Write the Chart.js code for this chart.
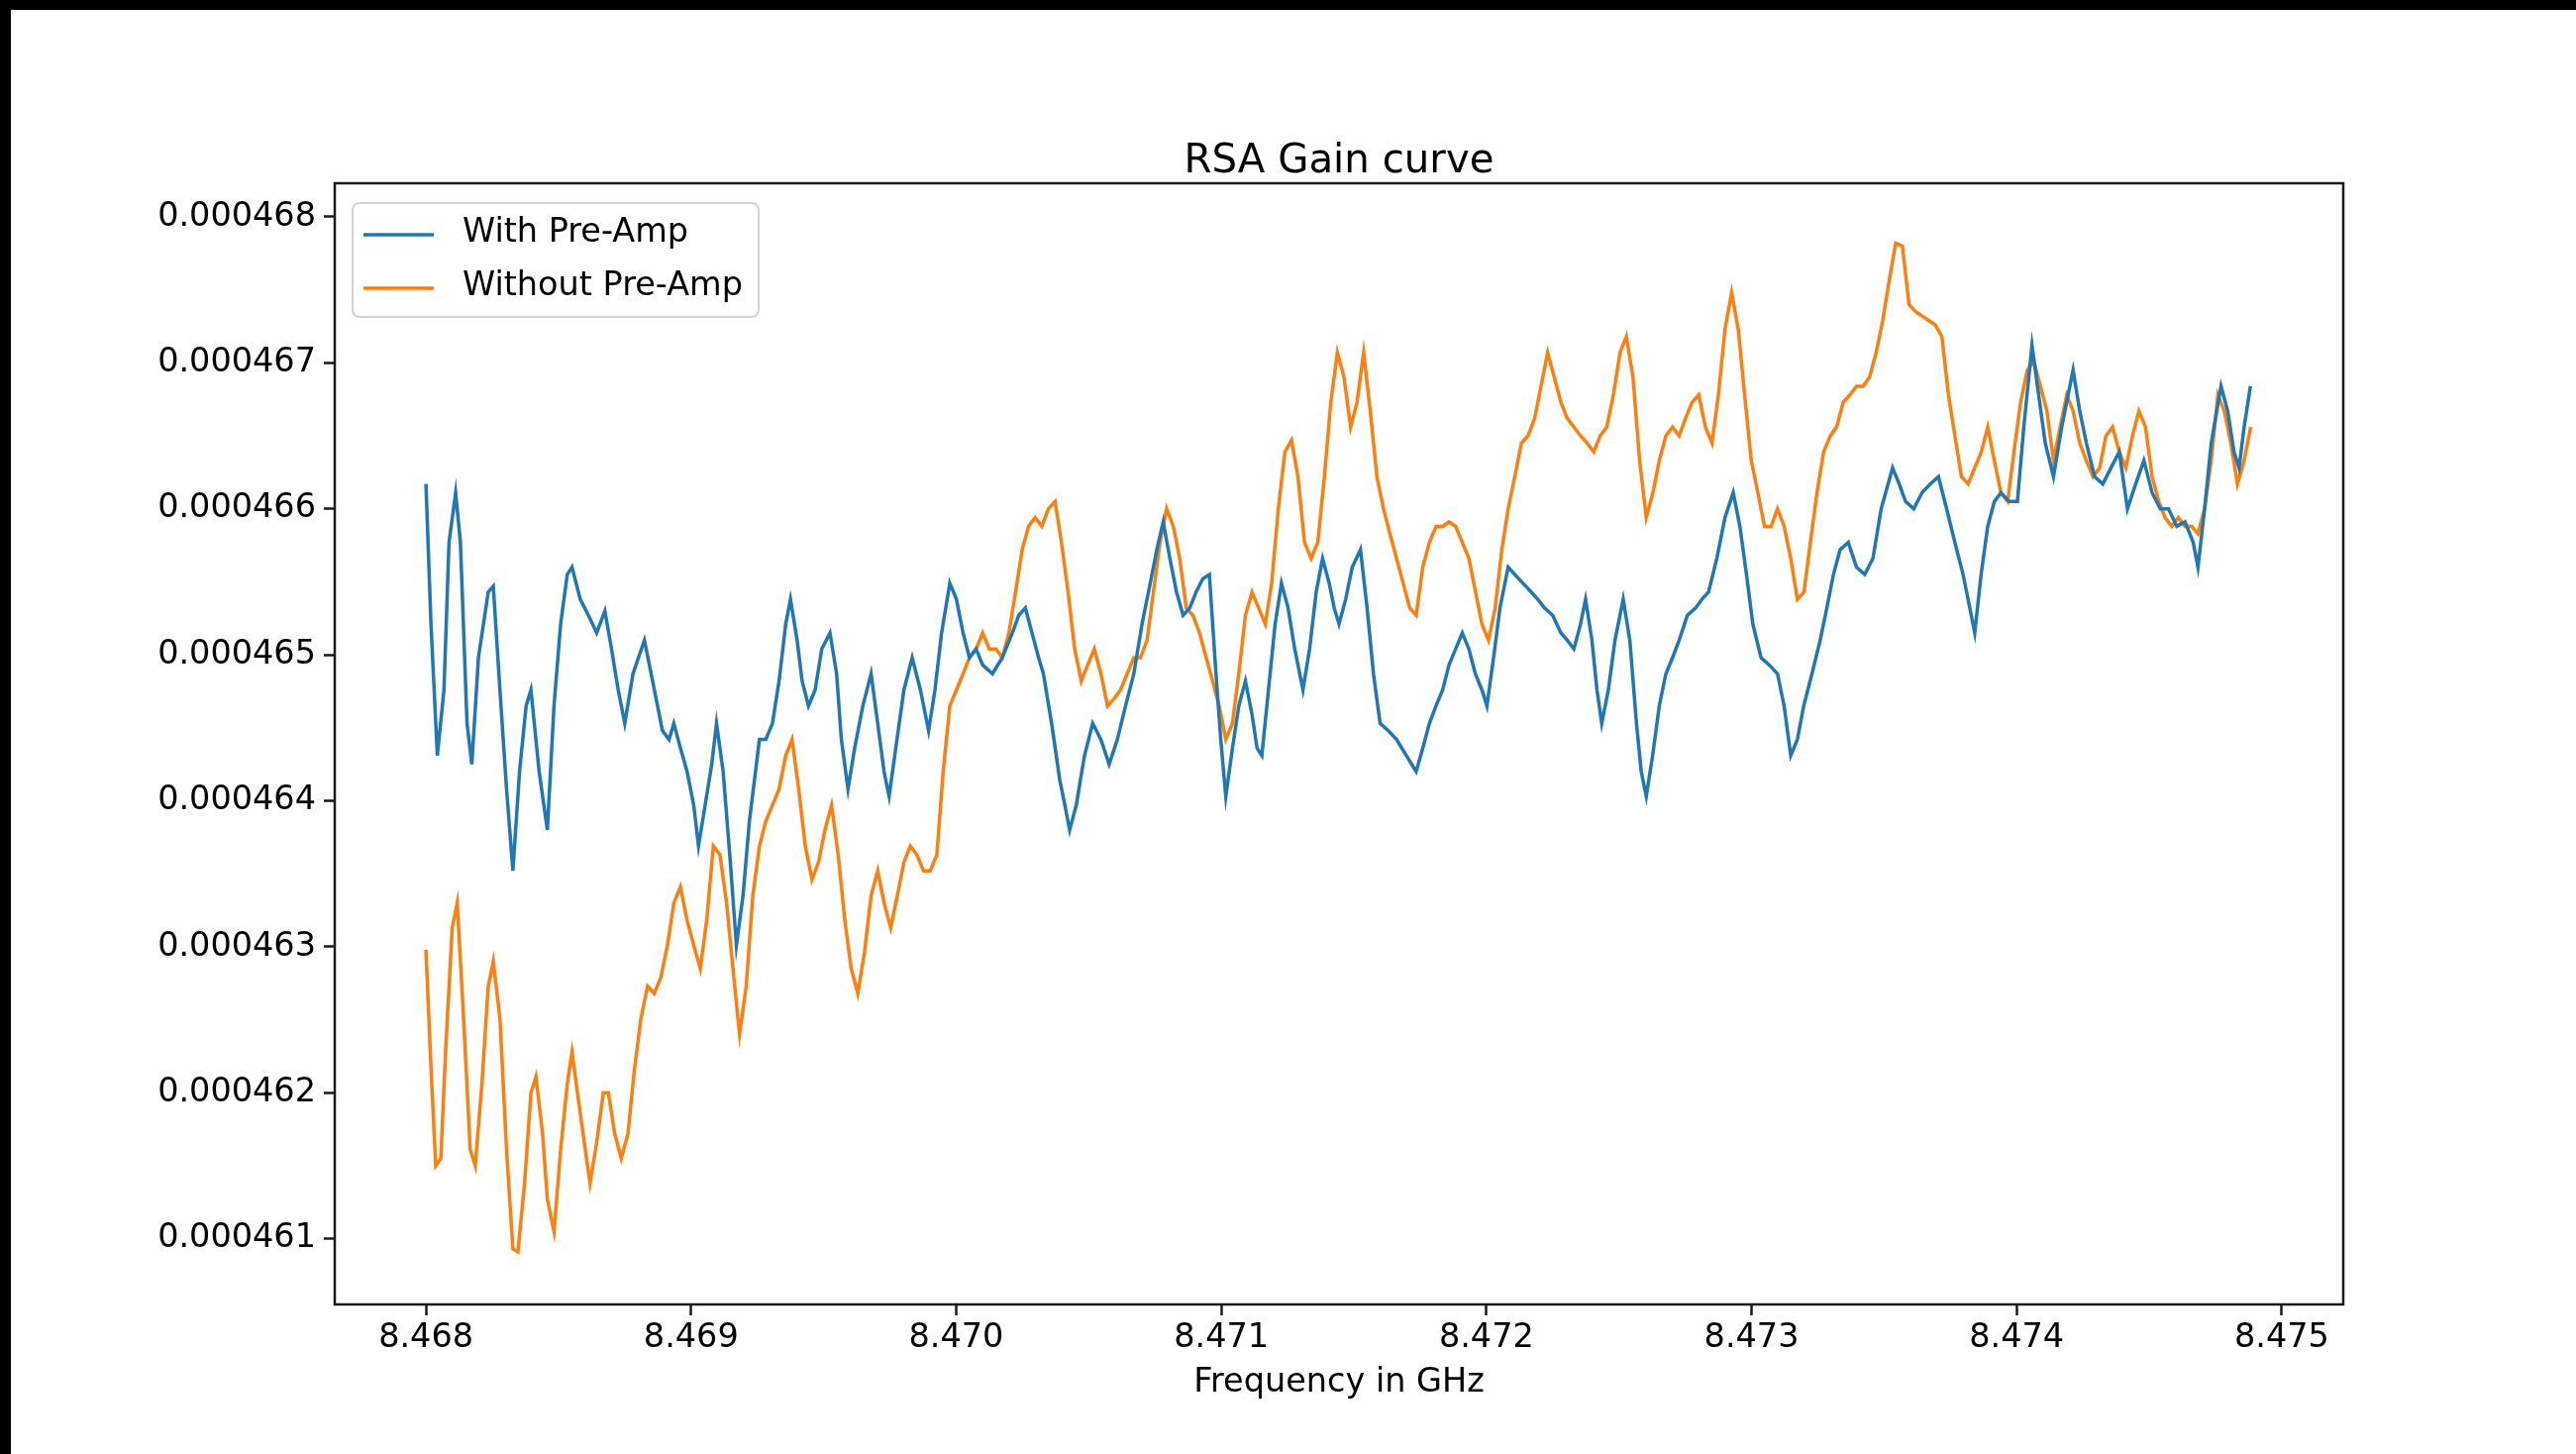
<!DOCTYPE html>
<html>
<head>
<meta charset="utf-8">
<title>RSA Gain curve</title>
<script src="https://cdn.jsdelivr.net/npm/chart.js@4.4.1/dist/chart.umd.min.js"></script>
<style>
  html, body { margin: 0; padding: 0; background: #000; width: 2601px; height: 1468px; overflow: hidden; }
  #frame { position: absolute; left: 11px; top: 10px; width: 2590px; height: 1458px; background: #fff; }
  canvas { display: block; }
</style>
</head>
<body>
<div id="frame"><canvas id="gain" width="2590" height="1458"></canvas></div>
<script>
// Frequency axis ticks (GHz) and value axis ticks
const xTicks = [8.468, 8.469, 8.470, 8.471, 8.472, 8.473, 8.474, 8.475];
const yTicks = [0.000461, 0.000462, 0.000463, 0.000464, 0.000465, 0.000466, 0.000467, 0.000468];

// Series labels
const seriesLabels = ['With Pre-Amp', 'Without Pre-Amp'];

// With Pre-Amp: sample frequencies (GHz) and measured gain
const freqWith = [8.468000, 8.468019, 8.468043, 8.468068, 8.468087, 8.468112, 8.468130, 8.468155, 8.468173, 8.468198,
  8.468235, 8.468254, 8.468279, 8.468304, 8.468328, 8.468353, 8.468378, 8.468396, 8.468427, 8.468458,
  8.468483, 8.468508, 8.468533, 8.468551, 8.468582, 8.468613, 8.468644, 8.468675, 8.468700, 8.468725,
  8.468750, 8.468781, 8.468824, 8.468855, 8.468892, 8.468917, 8.468935, 8.468960, 8.468985, 8.469010,
  8.469028, 8.469053, 8.469078, 8.469096, 8.469121, 8.469146, 8.469171, 8.469196, 8.469220, 8.469258,
  8.469282, 8.469307, 8.469332, 8.469357, 8.469375, 8.469400, 8.469419, 8.469443, 8.469468, 8.469493,
  8.469524, 8.469549, 8.469567, 8.469592, 8.469617, 8.469648, 8.469679, 8.469704, 8.469728, 8.469747,
  8.469772, 8.469803, 8.469834, 8.469865, 8.469896, 8.469920, 8.469945, 8.469976, 8.470001, 8.470026,
  8.470050, 8.470075, 8.470100, 8.470137, 8.470174, 8.470212, 8.470236, 8.470261, 8.470286, 8.470311,
  8.470329, 8.470360, 8.470391, 8.470410, 8.470428, 8.470453, 8.470484, 8.470515, 8.470546, 8.470577,
  8.470608, 8.470639, 8.470670, 8.470701, 8.470732, 8.470757, 8.470781, 8.470806, 8.470831, 8.470856,
  8.470881, 8.470905, 8.470930, 8.470955, 8.470980, 8.470998, 8.471017, 8.471042, 8.471066, 8.471091,
  8.471116, 8.471135, 8.471153, 8.471178, 8.471203, 8.471227, 8.471252, 8.471277, 8.471308, 8.471333,
  8.471358, 8.471382, 8.471407, 8.471426, 8.471444, 8.471469, 8.471494, 8.471525, 8.471550, 8.471574,
  8.471599, 8.471630, 8.471661, 8.471698, 8.471735, 8.471760, 8.471785, 8.471810, 8.471835, 8.471859,
  8.471884, 8.471909, 8.471934, 8.471958, 8.471983, 8.472002, 8.472027, 8.472051, 8.472082, 8.472107,
  8.472138, 8.472169, 8.472194, 8.472219, 8.472250, 8.472281, 8.472305, 8.472330, 8.472355, 8.472374,
  8.472398, 8.472417, 8.472435, 8.472460, 8.472485, 8.472516, 8.472541, 8.472566, 8.472584, 8.472603,
  8.472627, 8.472652, 8.472677, 8.472702, 8.472727, 8.472758, 8.472789, 8.472813, 8.472838, 8.472869,
  8.472900, 8.472931, 8.472956, 8.472981, 8.473005, 8.473036, 8.473067, 8.473098, 8.473123, 8.473148,
  8.473173, 8.473197, 8.473228, 8.473259, 8.473284, 8.473309, 8.473334, 8.473365, 8.473396, 8.473427,
  8.473458, 8.473489, 8.473532, 8.473557, 8.473581, 8.473612, 8.473643, 8.473674, 8.473705, 8.473736,
  8.473767, 8.473798, 8.473829, 8.473842, 8.473866, 8.473891, 8.473916, 8.473941, 8.473972, 8.474003,
  8.474027, 8.474058, 8.474083, 8.474108, 8.474139, 8.474170, 8.474213, 8.474238, 8.474263, 8.474294,
  8.474325, 8.474356, 8.474387, 8.474418, 8.474449, 8.474480, 8.474511, 8.474542, 8.474573, 8.474604,
  8.474635, 8.474666, 8.474684, 8.474709, 8.474734, 8.474771, 8.474796, 8.474820, 8.474839, 8.474858,
  8.474882];
const gainWith = [0.00046617, 0.00046521, 0.00046431, 0.00046476, 0.00046577, 0.00046611, 0.00046577, 0.00046453, 0.00046425, 0.00046498,
  0.00046543, 0.00046547, 0.00046476, 0.00046408, 0.00046352, 0.00046420, 0.00046465, 0.00046476, 0.00046420, 0.00046380,
  0.00046465, 0.00046521, 0.00046555, 0.00046560, 0.00046538, 0.00046527, 0.00046515, 0.00046530, 0.00046504, 0.00046476,
  0.00046453, 0.00046487, 0.00046510, 0.00046482, 0.00046448, 0.00046442, 0.00046453, 0.00046436, 0.00046420, 0.00046397,
  0.00046369, 0.00046397, 0.00046425, 0.00046453, 0.00046420, 0.00046363, 0.00046301, 0.00046335, 0.00046386, 0.00046442,
  0.00046442, 0.00046453, 0.00046482, 0.00046521, 0.00046538, 0.00046510, 0.00046482, 0.00046465, 0.00046476, 0.00046504,
  0.00046515, 0.00046487, 0.00046442, 0.00046408, 0.00046436, 0.00046465, 0.00046487, 0.00046453, 0.00046420, 0.00046403,
  0.00046436, 0.00046476, 0.00046498, 0.00046476, 0.00046448, 0.00046476, 0.00046515, 0.00046549, 0.00046538, 0.00046515,
  0.00046498, 0.00046504, 0.00046493, 0.00046487, 0.00046498, 0.00046515, 0.00046527, 0.00046532, 0.00046515, 0.00046498,
  0.00046487, 0.00046453, 0.00046414, 0.00046397, 0.00046380, 0.00046397, 0.00046431, 0.00046453, 0.00046442, 0.00046425,
  0.00046442, 0.00046465, 0.00046487, 0.00046521, 0.00046549, 0.00046572, 0.00046591, 0.00046566, 0.00046543, 0.00046527,
  0.00046532, 0.00046543, 0.00046552, 0.00046555, 0.00046487, 0.00046442, 0.00046403, 0.00046436, 0.00046465, 0.00046482,
  0.00046459, 0.00046436, 0.00046431, 0.00046476, 0.00046521, 0.00046549, 0.00046532, 0.00046504, 0.00046476, 0.00046504,
  0.00046543, 0.00046566, 0.00046549, 0.00046532, 0.00046521, 0.00046538, 0.00046560, 0.00046572, 0.00046532, 0.00046487,
  0.00046453, 0.00046448, 0.00046442, 0.00046431, 0.00046420, 0.00046436, 0.00046453, 0.00046465, 0.00046476, 0.00046493,
  0.00046504, 0.00046515, 0.00046504, 0.00046487, 0.00046476, 0.00046465, 0.00046498, 0.00046532, 0.00046560, 0.00046555,
  0.00046549, 0.00046543, 0.00046538, 0.00046532, 0.00046527, 0.00046515, 0.00046510, 0.00046504, 0.00046521, 0.00046538,
  0.00046510, 0.00046476, 0.00046453, 0.00046476, 0.00046510, 0.00046538, 0.00046510, 0.00046453, 0.00046420, 0.00046403,
  0.00046431, 0.00046465, 0.00046487, 0.00046498, 0.00046510, 0.00046527, 0.00046532, 0.00046538, 0.00046543, 0.00046566,
  0.00046594, 0.00046611, 0.00046588, 0.00046555, 0.00046521, 0.00046498, 0.00046493, 0.00046487, 0.00046465, 0.00046431,
  0.00046442, 0.00046465, 0.00046487, 0.00046510, 0.00046532, 0.00046555, 0.00046572, 0.00046577, 0.00046560, 0.00046555,
  0.00046566, 0.00046600, 0.00046628, 0.00046617, 0.00046605, 0.00046600, 0.00046611, 0.00046617, 0.00046622, 0.00046600,
  0.00046577, 0.00046555, 0.00046527, 0.00046515, 0.00046555, 0.00046588, 0.00046605, 0.00046611, 0.00046605, 0.00046605,
  0.00046656, 0.00046712, 0.00046678, 0.00046645, 0.00046622, 0.00046656, 0.00046695, 0.00046667, 0.00046645, 0.00046622,
  0.00046617, 0.00046628, 0.00046639, 0.00046600, 0.00046617, 0.00046633, 0.00046611, 0.00046600, 0.00046600, 0.00046588,
  0.00046591, 0.00046577, 0.00046560, 0.00046600, 0.00046645, 0.00046684, 0.00046667, 0.00046639, 0.00046628, 0.00046656,
  0.00046684];

// Without Pre-Amp: sample frequencies (GHz) and measured gain
const freqWithout = [8.468000, 8.468019, 8.468037, 8.468056, 8.468074, 8.468099, 8.468118, 8.468142, 8.468167, 8.468186,
  8.468211, 8.468235, 8.468254, 8.468279, 8.468304, 8.468328, 8.468347, 8.468372, 8.468396, 8.468415,
  8.468440, 8.468458, 8.468483, 8.468508, 8.468533, 8.468551, 8.468576, 8.468601, 8.468619, 8.468644,
  8.468669, 8.468688, 8.468712, 8.468737, 8.468762, 8.468787, 8.468811, 8.468836, 8.468861, 8.468886,
  8.468911, 8.468935, 8.468960, 8.468985, 8.469010, 8.469035, 8.469059, 8.469084, 8.469109, 8.469134,
  8.469158, 8.469183, 8.469208, 8.469233, 8.469258, 8.469282, 8.469307, 8.469332, 8.469357, 8.469381,
  8.469406, 8.469431, 8.469456, 8.469481, 8.469505, 8.469530, 8.469555, 8.469580, 8.469604, 8.469629,
  8.469654, 8.469679, 8.469704, 8.469728, 8.469753, 8.469778, 8.469803, 8.469827, 8.469852, 8.469877,
  8.469902, 8.469927, 8.469951, 8.469976, 8.470001, 8.470026, 8.470050, 8.470075, 8.470100, 8.470125,
  8.470150, 8.470174, 8.470199, 8.470224, 8.470249, 8.470273, 8.470298, 8.470323, 8.470348, 8.470373,
  8.470397, 8.470422, 8.470447, 8.470472, 8.470496, 8.470521, 8.470546, 8.470571, 8.470596, 8.470620,
  8.470645, 8.470670, 8.470695, 8.470720, 8.470744, 8.470769, 8.470794, 8.470819, 8.470843, 8.470868,
  8.470893, 8.470918, 8.470943, 8.470967, 8.470992, 8.471017, 8.471042, 8.471066, 8.471091, 8.471116,
  8.471141, 8.471166, 8.471190, 8.471215, 8.471240, 8.471265, 8.471289, 8.471314, 8.471339, 8.471364,
  8.471389, 8.471413, 8.471438, 8.471463, 8.471488, 8.471512, 8.471537, 8.471562, 8.471587, 8.471612,
  8.471636, 8.471661, 8.471686, 8.471711, 8.471735, 8.471760, 8.471785, 8.471810, 8.471835, 8.471859,
  8.471884, 8.471909, 8.471934, 8.471959, 8.471983, 8.472008, 8.472033, 8.472058, 8.472082, 8.472107,
  8.472132, 8.472157, 8.472182, 8.472206, 8.472231, 8.472256, 8.472281, 8.472305, 8.472330, 8.472355,
  8.472380, 8.472405, 8.472429, 8.472454, 8.472479, 8.472504, 8.472528, 8.472553, 8.472578, 8.472603,
  8.472628, 8.472652, 8.472677, 8.472702, 8.472727, 8.472751, 8.472776, 8.472801, 8.472826, 8.472851,
  8.472875, 8.472900, 8.472925, 8.472950, 8.472974, 8.472999, 8.473024, 8.473049, 8.473074, 8.473098,
  8.473123, 8.473148, 8.473173, 8.473198, 8.473222, 8.473247, 8.473272, 8.473297, 8.473321, 8.473346,
  8.473371, 8.473396, 8.473421, 8.473445, 8.473470, 8.473495, 8.473520, 8.473544, 8.473569, 8.473594,
  8.473619, 8.473644, 8.473668, 8.473693, 8.473718, 8.473743, 8.473767, 8.473792, 8.473817, 8.473842,
  8.473867, 8.473891, 8.473916, 8.473941, 8.473966, 8.473990, 8.474015, 8.474040, 8.474065, 8.474090,
  8.474114, 8.474139, 8.474164, 8.474189, 8.474213, 8.474238, 8.474263, 8.474288, 8.474313, 8.474337,
  8.474362, 8.474387, 8.474412, 8.474437, 8.474461, 8.474486, 8.474511, 8.474536, 8.474560, 8.474585,
  8.474610, 8.474635, 8.474660, 8.474684, 8.474709, 8.474734, 8.474759, 8.474783, 8.474808, 8.474833,
  8.474858, 8.474883];
const gainWithout = [0.00046298, 0.00046217, 0.00046150, 0.00046155, 0.00046228, 0.00046313, 0.00046330, 0.00046251, 0.00046161, 0.00046150,
  0.00046206, 0.00046273, 0.00046290, 0.00046251, 0.00046161, 0.00046093, 0.00046091, 0.00046138, 0.00046200, 0.00046211,
  0.00046172, 0.00046127, 0.00046105, 0.00046161, 0.00046206, 0.00046228, 0.00046194, 0.00046161, 0.00046138, 0.00046166,
  0.00046200, 0.00046200, 0.00046172, 0.00046155, 0.00046172, 0.00046217, 0.00046251, 0.00046273, 0.00046268, 0.00046279,
  0.00046301, 0.00046330, 0.00046341, 0.00046318, 0.00046301, 0.00046285, 0.00046318, 0.00046369, 0.00046363, 0.00046330,
  0.00046285, 0.00046240, 0.00046273, 0.00046335, 0.00046369, 0.00046386, 0.00046397, 0.00046408, 0.00046431, 0.00046442,
  0.00046408, 0.00046369, 0.00046346, 0.00046358, 0.00046380, 0.00046397, 0.00046363, 0.00046318, 0.00046285, 0.00046268,
  0.00046296, 0.00046335, 0.00046352, 0.00046330, 0.00046313, 0.00046335, 0.00046358, 0.00046369, 0.00046363, 0.00046352,
  0.00046352, 0.00046363, 0.00046420, 0.00046465, 0.00046476, 0.00046487, 0.00046498, 0.00046504, 0.00046515, 0.00046504,
  0.00046504, 0.00046498, 0.00046515, 0.00046543, 0.00046572, 0.00046588, 0.00046594, 0.00046588, 0.00046600, 0.00046605,
  0.00046577, 0.00046543, 0.00046504, 0.00046482, 0.00046493, 0.00046504, 0.00046487, 0.00046465, 0.00046470, 0.00046476,
  0.00046487, 0.00046498, 0.00046498, 0.00046510, 0.00046543, 0.00046577, 0.00046600, 0.00046588, 0.00046566, 0.00046532,
  0.00046527, 0.00046515, 0.00046498, 0.00046482, 0.00046465, 0.00046442, 0.00046453, 0.00046487, 0.00046527, 0.00046543,
  0.00046532, 0.00046521, 0.00046549, 0.00046600, 0.00046639, 0.00046647, 0.00046622, 0.00046577, 0.00046566, 0.00046577,
  0.00046622, 0.00046673, 0.00046707, 0.00046690, 0.00046656, 0.00046673, 0.00046707, 0.00046667, 0.00046622, 0.00046600,
  0.00046583, 0.00046566, 0.00046549, 0.00046532, 0.00046527, 0.00046560, 0.00046577, 0.00046588, 0.00046588, 0.00046591,
  0.00046588, 0.00046577, 0.00046566, 0.00046543, 0.00046521, 0.00046510, 0.00046532, 0.00046572, 0.00046600, 0.00046622,
  0.00046645, 0.00046650, 0.00046662, 0.00046684, 0.00046707, 0.00046690, 0.00046673, 0.00046662, 0.00046656, 0.00046650,
  0.00046645, 0.00046639, 0.00046650, 0.00046656, 0.00046678, 0.00046707, 0.00046718, 0.00046690, 0.00046633, 0.00046594,
  0.00046611, 0.00046633, 0.00046650, 0.00046656, 0.00046650, 0.00046662, 0.00046673, 0.00046678, 0.00046656, 0.00046645,
  0.00046678, 0.00046723, 0.00046748, 0.00046723, 0.00046678, 0.00046633, 0.00046611, 0.00046588, 0.00046588, 0.00046600,
  0.00046588, 0.00046566, 0.00046538, 0.00046543, 0.00046577, 0.00046611, 0.00046639, 0.00046650, 0.00046656, 0.00046673,
  0.00046678, 0.00046684, 0.00046684, 0.00046690, 0.00046707, 0.00046729, 0.00046757, 0.00046782, 0.00046780, 0.00046740,
  0.00046735, 0.00046732, 0.00046729, 0.00046726, 0.00046718, 0.00046678, 0.00046650, 0.00046622, 0.00046617, 0.00046628,
  0.00046639, 0.00046656, 0.00046633, 0.00046611, 0.00046605, 0.00046639, 0.00046673, 0.00046695, 0.00046701, 0.00046684,
  0.00046667, 0.00046633, 0.00046656, 0.00046678, 0.00046667, 0.00046645, 0.00046633, 0.00046622, 0.00046628, 0.00046650,
  0.00046656, 0.00046639, 0.00046628, 0.00046650, 0.00046667, 0.00046656, 0.00046622, 0.00046605, 0.00046594, 0.00046588,
  0.00046594, 0.00046588, 0.00046588, 0.00046583, 0.00046600, 0.00046633, 0.00046678, 0.00046667, 0.00046645, 0.00046617,
  0.00046633, 0.00046656];

const FONT = "'DejaVu Sans', 'Liberation Sans', sans-serif";
const BLUE = '#1f77b4';
const ORANGE = '#ff7f0e';

function points(freqs, gains) {
  const n = Math.min(freqs.length, gains.length);
  const out = [];
  for (let i = 0; i < n; i++) out.push({ x: freqs[i], y: gains[i] });
  return out;
}

// Box around the whole plotting area
const axesFrame = {
  id: 'axesFrame',
  afterDatasetsDraw(chart) {
    const { ctx, chartArea: a } = chart;
    ctx.save();
    ctx.strokeStyle = '#1a1a1a';
    ctx.lineWidth = 2.5;
    ctx.strokeRect(a.left, a.top, a.right - a.left, a.bottom - a.top);
    ctx.restore();
  }
};

// Legend box in the upper-left corner of the plotting area
const insetLegend = {
  id: 'insetLegend',
  afterDraw(chart) {
    const { ctx, chartArea: a } = chart;
    const x0 = a.left + 18, y0 = a.top + 20, w = 410, h = 115, r = 7;
    ctx.save();
    ctx.beginPath();
    ctx.roundRect(x0, y0, w, h, r);
    ctx.fillStyle = 'rgba(255,255,255,0.85)';
    ctx.fill();
    ctx.strokeStyle = '#d3d3d3';
    ctx.lineWidth = 2;
    ctx.stroke();
    chart.data.datasets.forEach((ds, i) => {
      const ly = y0 + 32 + i * 54;
      ctx.beginPath();
      ctx.moveTo(x0 + 11, ly);
      ctx.lineTo(x0 + 82, ly);
      ctx.strokeStyle = ds.borderColor;
      ctx.lineWidth = 3.4;
      ctx.stroke();
      ctx.fillStyle = '#000';
      ctx.font = '33.5px ' + FONT;
      ctx.textBaseline = 'middle';
      ctx.textAlign = 'left';
      ctx.fillText(ds.label, x0 + 111, ly - 2);
    });
    ctx.restore();
  }
};

new Chart(document.getElementById('gain'), {
  type: 'line',
  data: {
    datasets: [
      { label: seriesLabels[0], data: points(freqWith, gainWith), borderColor: BLUE, backgroundColor: BLUE,
        borderWidth: 3.5, pointRadius: 0, tension: 0, fill: false },
      { label: seriesLabels[1], data: points(freqWithout, gainWithout), borderColor: ORANGE, backgroundColor: ORANGE,
        borderWidth: 3.5, pointRadius: 0, tension: 0, fill: false }
    ]
  },
  options: {
    responsive: false,
    animation: false,
    devicePixelRatio: 1,
    layout: { padding: { left: 0, right: 235, top: 0, bottom: 0 } },
    plugins: {
      legend: { display: false },
      tooltip: { enabled: false },
      title: {
        display: true,
        fullSize: false,
        text: 'RSA Gain curve',
        color: '#000',
        font: { family: FONT, size: 40.3, weight: 'normal', lineHeight: 1.0 },
        padding: { top: 133.6, bottom: 1.1 }
      }
    },
    scales: {
      x: {
        type: 'linear',
        min: 8.467656,
        max: 8.475232,
        afterBuildTicks(scale) { scale.ticks = xTicks.map(v => ({ value: v })); },
        afterFit(scale) { scale.height = 151; },
        border: { display: false },
        grid: { drawOnChartArea: false, drawTicks: true, tickLength: 11, tickWidth: 2.5, tickColor: '#1a1a1a' },
        ticks: {
          autoSkip: false, maxRotation: 0, padding: 3, color: '#000',
          font: { family: FONT, size: 33.5 },
          callback: v => Number(v).toFixed(3)
        },
        title: {
          display: true, text: 'Frequency in GHz', color: '#000',
          font: { family: FONT, size: 33.5, lineHeight: 1.2 },
          padding: { top: 0, bottom: 52 }
        }
      },
      y: {
        type: 'linear',
        min: 0.00046055,
        max: 0.00046823,
        afterBuildTicks(scale) { scale.ticks = yTicks.map(v => ({ value: v })); },
        afterFit(scale) { scale.width = 327; },
        border: { display: false },
        grid: { drawOnChartArea: false, drawTicks: true, tickLength: 11, tickWidth: 2.5, tickColor: '#1a1a1a' },
        ticks: {
          autoSkip: false, padding: 8, color: '#000',
          font: { family: FONT, size: 33.5 },
          callback: v => Number(v).toFixed(6)
        }
      }
    }
  },
  plugins: [axesFrame, insetLegend]
});
</script>
</body>
</html>
